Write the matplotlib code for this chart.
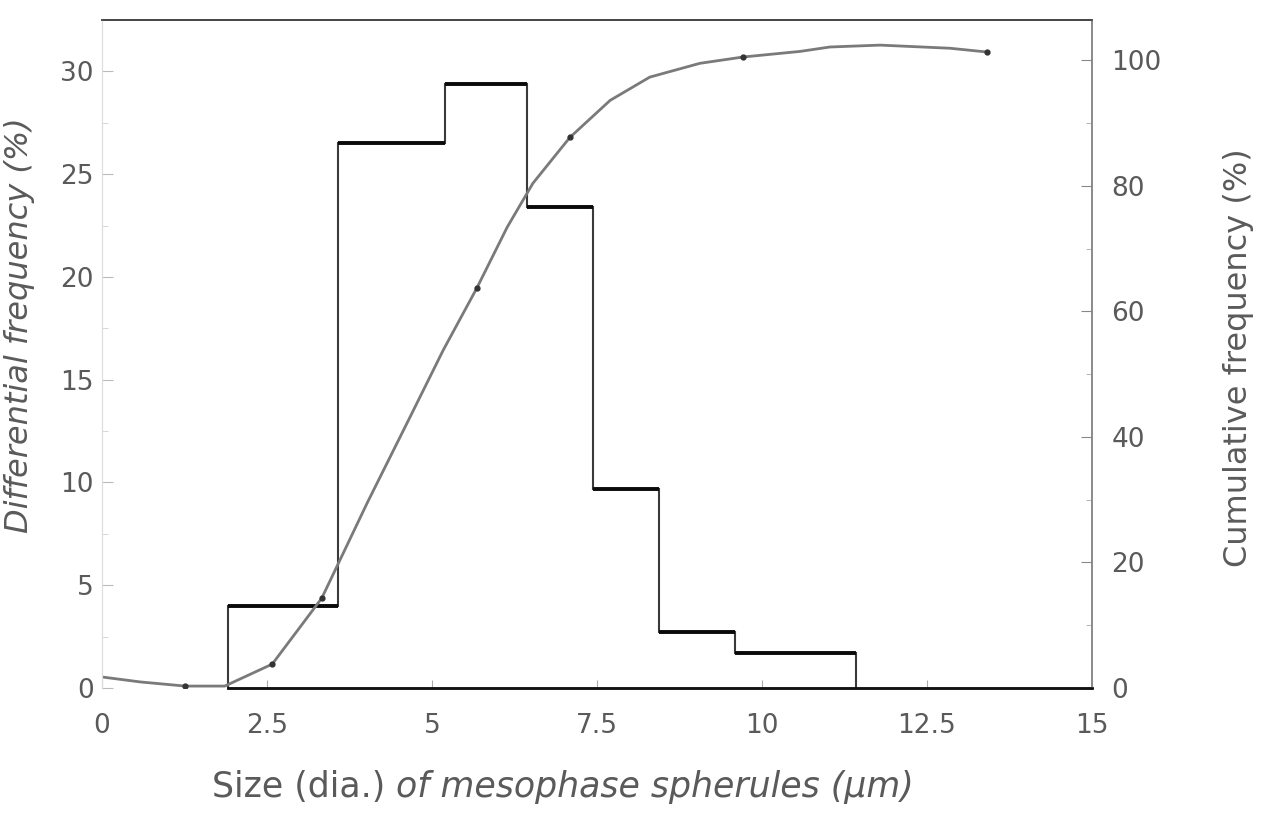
import matplotlib
matplotlib.use("Agg")
import matplotlib.pyplot as plt
from matplotlib.ticker import MultipleLocator

# histogram of differential frequency (left axis)
bin_edges = [1.91, 3.58, 5.2, 6.44, 7.44, 8.44, 9.59, 11.42]
diff_freq = [4.0, 26.5, 29.4, 23.4, 9.7, 2.7, 1.7]

# cumulative frequency curve (right axis)
cum_x = [0, 0.58, 1.26, 1.86, 2.58, 3.33, 4.02, 4.67, 5.17, 5.68, 6.14, 6.53,
         7.09, 7.70, 8.30, 9.06, 9.71, 10.58, 11.03, 11.79, 12.85, 13.41]
cum_y = [1.75, 0.96, 0.3, 0.3, 3.8, 14.3, 29.5, 43.2, 53.8, 63.7, 73.4, 80.4,
         87.7, 93.6, 97.3, 99.5, 100.5, 101.4, 102.1, 102.4, 101.9, 101.3]

# measured points marked on the curve
mark_x = [1.26, 2.58, 3.33, 5.68, 7.09, 9.71, 13.41]
mark_y = [0.3, 3.8, 14.3, 63.7, 87.7, 100.5, 101.3]

x_ticks = [0, 2.5, 5, 7.5, 10, 12.5, 15]
x_labels = ["0", "2.5", "5", "7.5", "10", "12.5", "15"]

plt.rcParams['font.family'] = ['DejaVu Sans']
txt = '#5a5a5a'

fig = plt.figure(figsize=(12.78, 8.13), dpi=100)
ax = fig.add_axes([0.0798, 0.1538, 0.7746, 0.8216])
ax2 = ax.twinx()

# outline of the histogram, then heavier tops
ax.stairs(diff_freq, bin_edges, baseline=0, color='#3a3a3a', lw=1.5)
ax.hlines(diff_freq, bin_edges[:-1], bin_edges[1:], color='#0a0a0a', lw=2.8)

ax2.plot(cum_x, cum_y, color='#7a7a7a', lw=2.0)
ax2.plot(mark_x, mark_y, 'o', ms=3.5, color='#333333')

ax.set_xlim(0, 15)
ax.set_ylim(0, 32.5)
ax2.set_ylim(0, 106.4)

ax.set_xticks(x_ticks)
ax.set_xticklabels(x_labels)
ax.set_yticks([0, 5, 10, 15, 20, 25, 30])
ax.yaxis.set_minor_locator(MultipleLocator(2.5))
ax2.set_yticks([0, 20, 40, 60, 80, 100])
ax2.yaxis.set_minor_locator(MultipleLocator(10))

ax.tick_params(axis='x', direction='in', length=6, pad=18, labelsize=19,
               labelcolor=txt, color='#aaaaaa')
ax.tick_params(axis='y', which='major', direction='in', length=8, pad=6,
               labelsize=19, labelcolor=txt, color='#bbbbbb')
ax.tick_params(axis='y', which='minor', direction='in', length=4, color='#d0d0d0')
ax2.tick_params(axis='y', which='major', direction='in', length=8, pad=14,
                labelsize=19, labelcolor=txt, color='#888888')
ax2.tick_params(axis='y', which='minor', direction='in', length=4, color='#aaaaaa')

for a in (ax, ax2):
    a.spines['left'].set_color('#dddddd')
    a.spines['top'].set_color('#444444')
    a.spines['top'].set_linewidth(1.2)
    a.spines['right'].set_color('#8a8a8a')
    a.spines['right'].set_linewidth(1.2)
    a.spines['bottom'].set_color('#111111')
    a.spines['bottom'].set_linewidth(1.8)
    a.spines['bottom'].set_bounds(bin_edges[0], 15)

ax.set_ylabel('Differential frequency (%)', fontsize=23, style='italic',
              color=txt)
ax.yaxis.set_label_coords(-0.068, 0.543)
ax2.set_ylabel('Cumulative frequency (%)', fontsize=23, color=txt,
               rotation=90)
ax2.yaxis.set_label_coords(1.132, 0.495)

t1 = fig.text(0.166, 0.032, 'Size (dia.) ', fontsize=25, color=txt,
              ha='left', va='center')
ax.annotate('of mesophase spherules (\u03bcm)', xy=(1, 0), xycoords=t1,
            ha='left', va='bottom', fontsize=25, style='italic', color=txt)

fig.savefig('out.png', dpi=100)
